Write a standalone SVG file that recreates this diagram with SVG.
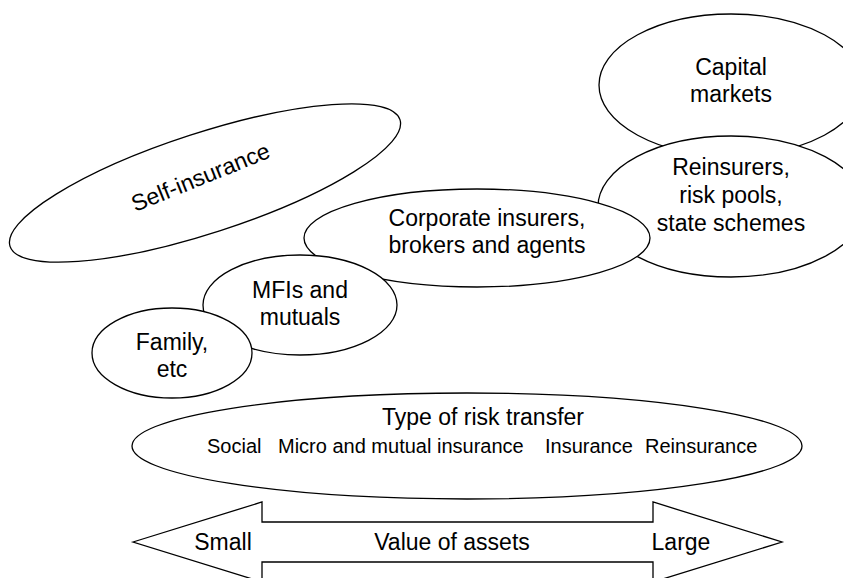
<svg xmlns="http://www.w3.org/2000/svg" width="843" height="578" viewBox="0 0 843 578">
<style>
.n{fill:#fff;stroke:#000;stroke-width:1.3}
.t{font-family:"Liberation Sans",Arial,sans-serif;font-size:23px;fill:#000;text-anchor:middle}
.s{font-family:"Liberation Sans",Arial,sans-serif;font-size:20px;fill:#000}
</style>
<rect width="843" height="578" fill="#fff"/>
<g id="self-insurance">
<ellipse class="n" cx="205" cy="183" rx="205" ry="50" transform="rotate(-18 205 183)"/>
<text class="t" x="203.5" y="184.5" transform="rotate(-22 203.5 184.5)">Self-insurance</text>
</g>
<g id="capital-markets">
<ellipse class="n" cx="731" cy="85" rx="132" ry="71"/>
<text class="t" x="731" y="75">Capital</text>
<text class="t" x="731" y="102">markets</text>
</g>
<g id="reinsurers">
<ellipse class="n" cx="731" cy="206.5" rx="133" ry="70.5"/>
<text class="t" x="731" y="175">Reinsurers,</text>
<text class="t" x="731" y="203">risk pools,</text>
<text class="t" x="731" y="231">state schemes</text>
</g>
<g id="corporate">
<ellipse class="n" cx="477" cy="238" rx="173" ry="49"/>
<text class="t" x="487" y="226">Corporate insurers,</text>
<text class="t" x="487" y="253">brokers and agents</text>
</g>
<g id="mfis">
<ellipse class="n" cx="300" cy="305" rx="97" ry="50"/>
<text class="t" x="300" y="298">MFIs and</text>
<text class="t" x="300" y="325">mutuals</text>
</g>
<g id="family">
<ellipse class="n" cx="172" cy="353" rx="80" ry="45"/>
<text class="t" x="172" y="350">Family,</text>
<text class="t" x="172" y="377">etc</text>
</g>
<g id="risk-transfer">
<ellipse class="n" cx="467" cy="446" rx="335" ry="53"/>
<text class="t" x="483" y="425">Type of risk transfer</text>
<text class="s" x="207" y="453">Social</text>
<text class="s" x="278" y="453">Micro and mutual insurance</text>
<text class="s" x="545" y="453">Insurance</text>
<text class="s" x="645" y="453">Reinsurance</text>
</g>
<g id="value-arrow">
<polygon class="n" points="133,542 262,502 262,522 653,522 653,502 782,542 653,582 653,562 262,562 262,582"/>
<text class="t" x="223" y="550">Small</text>
<text class="t" x="452" y="550">Value of assets</text>
<text class="t" x="681" y="550">Large</text>
</g>
<g id="connectors"></g>
</svg>
